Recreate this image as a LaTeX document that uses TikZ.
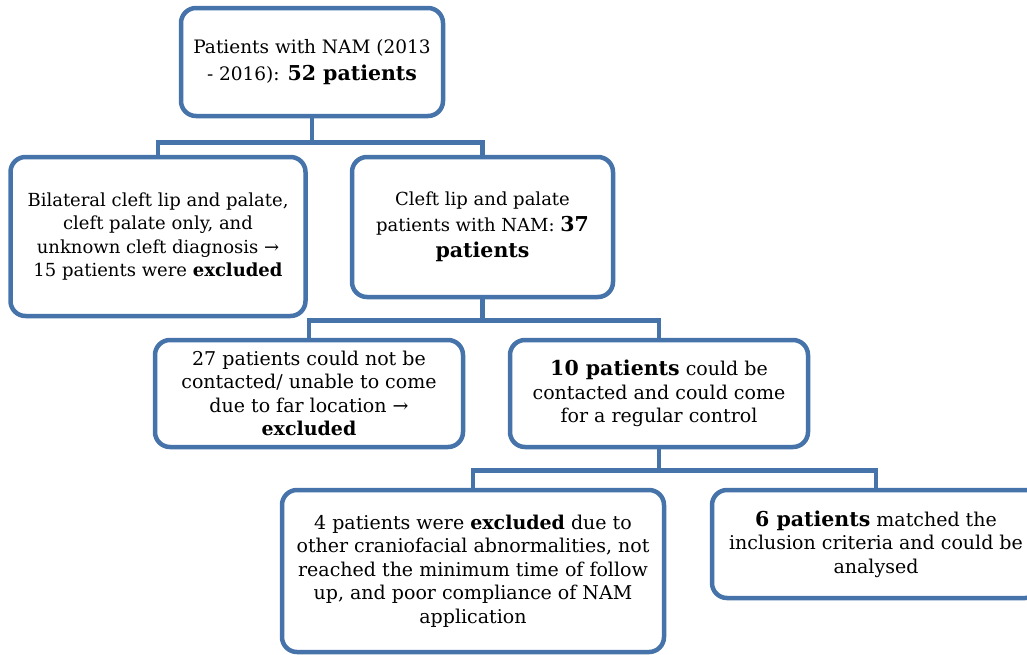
\documentclass[tikz,border=0pt]{standalone}
\usepackage{fontspec}
\setmainfont{DejaVu Serif}
\definecolor{boxblue}{RGB}{70,116,170}
\tikzset{
  box/.style={draw=boxblue, line width=4.5pt, rounded corners=15pt, fill=white, align=center, inner sep=0pt, font=\fontsize{18}{23.5}\selectfont},
  lowbox/.style={box, font=\fontsize{19}{23.5}\selectfont},
  link/.style={draw=boxblue, line width=4.5pt},
}
\newcommand{\bignum}[1]{{\fontsize{20.5}{23.5}\selectfont\bfseries #1}}
\begin{document}
\begin{tikzpicture}[x=1pt,y=-1pt]
\useasboundingbox (0,0) rectangle (1027,654);
\node[box, minimum width=262pt, minimum height=108pt, font=\fontsize{18.5}{27}\selectfont] (b1) at (312,62)
  {Patients with NAM (2013\\- 2016): \bignum{52 patients}};
\node[box, minimum width=295pt, minimum height=159pt] (b2) at (158,236.5)
  {Bilateral cleft lip and palate,\\cleft palate only, and\\unknown cleft diagnosis →\\15 patients were \textbf{excluded}};
\node[box, minimum width=261pt, minimum height=140pt, font=\fontsize{18}{26}\selectfont] (b3) at (482.5,227)
  {Cleft lip and palate\\patients with NAM: \bignum{37}\\\bignum{patients}};
\node[lowbox, minimum width=308pt, minimum height=107pt] (b4) at (309,393.5)
  {27 patients could not be\\contacted/ unable to come\\due to far location →\\\textbf{excluded}};
\node[lowbox, minimum width=298pt, minimum height=107pt] (b5) at (659,393.5)
  {\bignum{10 patients} could be\\contacted and could come\\for a regular control};
\node[lowbox, minimum width=382pt, minimum height=162pt] (b6) at (473,571)
  {4 patients were \textbf{excluded} due to\\other craniofacial abnormalities, not\\reached the minimum time of follow\\up, and poor compliance of NAM\\application};
\node[lowbox, minimum width=328pt, minimum height=108pt] (b7) at (876,544)
  {\bignum{6 patients} matched the\\inclusion criteria and could be\\analysed};
\draw[link] (b1.south) -- ++(0,24) coordinate (j1);
\draw[link] (j1) -| (b2.north);
\draw[link] (j1) -| (b3.north);
\draw[link] (b3.south) -- ++(0,21) coordinate (j2);
\draw[link] (j2) -| (b4.north);
\draw[link] (j2) -| (b5.north);
\draw[link] (b5.south) -- ++(0,21) coordinate (j3);
\draw[link] (j3) -| (b6.north);
\draw[link] (j3) -| (b7.north);
\end{tikzpicture}
\end{document}
